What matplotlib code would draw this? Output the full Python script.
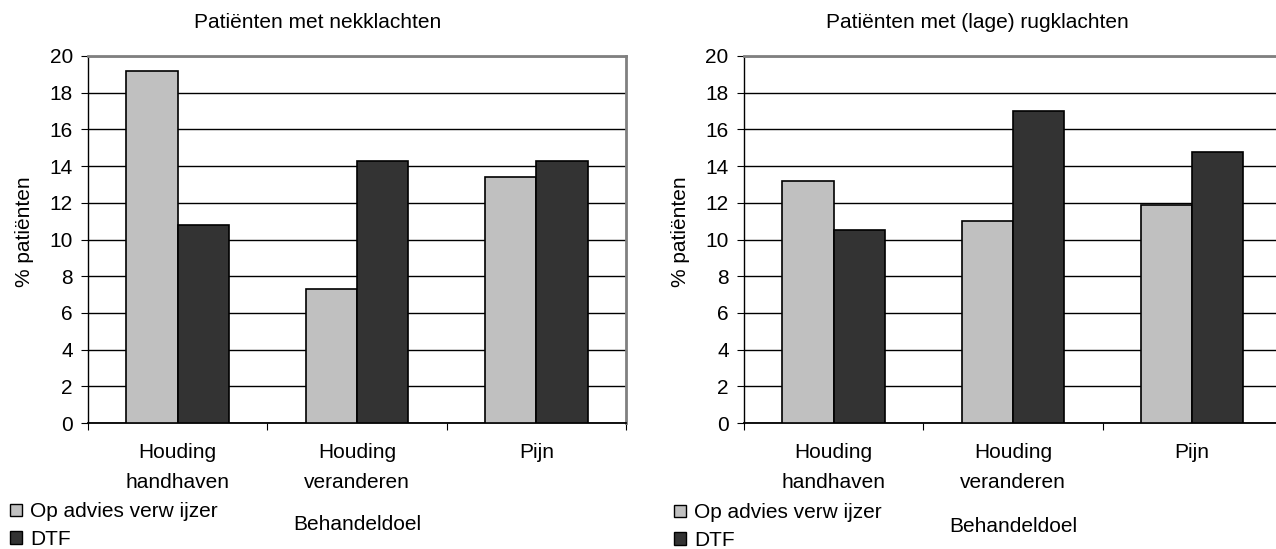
import numpy as np
import matplotlib.pyplot as plt
from matplotlib.patches import Patch

plt.rcParams['font.family'] = ['Liberation Sans', 'DejaVu Sans']

categorieen = ['Houding\nhandhaven', 'Houding\nveranderen', 'Pijn']
reeksen = ['Op advies verw ijzer', 'DTF']
titels = ['Patiënten met nekklachten', 'Patiënten met (lage) rugklachten']
nek_verwijzer = [19.2, 7.3, 13.4]
nek_dtf = [10.8, 14.3, 14.3]
rug_verwijzer = [13.2, 11.0, 11.9]
rug_dtf = [10.5, 17.0, 14.75]

kleuren = ['#c0c0c0', '#333333']
fs = 15

fig = plt.figure(figsize=(12.76, 5.49), dpi=100)

panelen = [
    (0.069, 318, [nek_verwijzer, nek_dtf], 0),
    (0.583, 977, [rug_verwijzer, rug_dtf], 2),
]

for i, (links, titel_x, data, dy) in enumerate(panelen):
    ax = fig.add_axes([links, 0.2295, 0.4216, 0.6685])
    x = np.arange(len(categorieen))
    bw = 1 / 3.5
    for j, vals in enumerate(data):
        ax.bar(x + (j - 0.5) * bw, vals, bw, color=kleuren[j],
               edgecolor='black', linewidth=1.2, zorder=3)
    ax.set_xlim(-0.5, 2.5)
    ax.set_ylim(0, 20)
    ax.set_yticks(range(0, 21, 2))
    ax.yaxis.grid(True, color='black', linewidth=1, zorder=0)
    ax.set_xticks([-0.5, 0.5, 1.5, 2.5])
    ax.set_xticklabels([])
    ax.set_xticks(x, minor=True)
    ax.set_xticklabels(categorieen, minor=True, fontsize=fs, linespacing=1.72)
    ax.tick_params(axis='x', which='minor', length=0, pad=14.5)
    ax.tick_params(axis='x', which='major', length=5, direction='out')
    ax.tick_params(axis='y', length=5, labelsize=fs, pad=6)
    for s in ['top', 'right']:
        ax.spines[s].set_color('#808080')
        ax.spines[s].set_linewidth(2)
    ax.spines['left'].set_linewidth(1)
    ax.spines['bottom'].set_linewidth(1.3)
    ax.set_ylabel('% patiënten', fontsize=fs)
    ax.yaxis.set_label_coords(-0.1, 0.52)
    ax.set_xlabel('Behandeldoel', fontsize=fs)
    ax.xaxis.set_label_coords(0.5, -0.25 - dy / 367)
    fig.text(titel_x / 1276, 1 - 23 / 549, titels[i], ha='center', va='center', fontsize=fs)

    handles = [Patch(facecolor=kleuren[k], edgecolor='black', linewidth=1) for k in range(2)]
    lx = 4 / 1276 if i == 0 else 668 / 1276
    fig.legend(handles, reeksen, loc='upper left', bbox_to_anchor=(lx, 1 - (496 + dy / 2) / 549),
               frameon=False, fontsize=fs, handlelength=0.55, handleheight=0.55,
               handletextpad=0.4, labelspacing=0.42, borderaxespad=0, borderpad=0.3)

fig.savefig('out.png', dpi=100)
